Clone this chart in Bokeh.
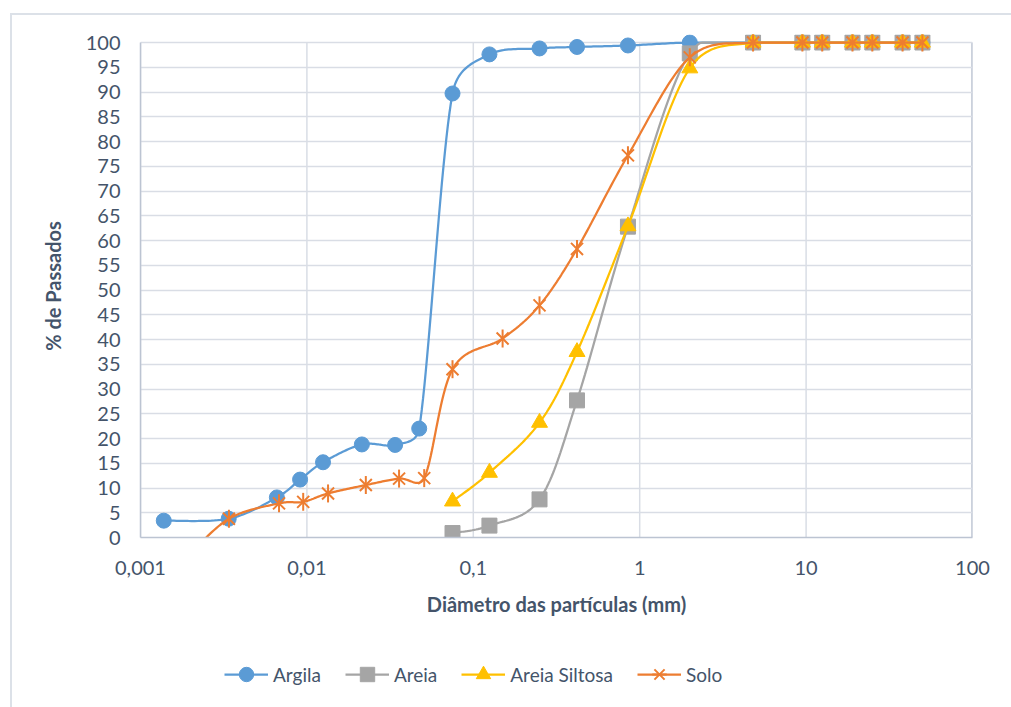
import numpy as np
from bokeh.plotting import figure
from bokeh.layouts import column
from bokeh.models import (Range1d, FixedTicker, CustomJSTickFormatter, Legend,
                          LegendItem, InlineStyleSheet)
from bokeh.embed import file_html
from bokeh.resources import INLINE

# Grain-size distribution (% passing vs particle diameter, mm)
coarse_d = [4.8, 9.5, 12.5, 19, 25, 38, 50]
coarse_p = [100, 100, 100, 100, 100, 100, 100]

argila_d = [0.00138, 0.00339, 0.0066, 0.0091, 0.0125, 0.0214, 0.0339, 0.0473,
            0.075, 0.125, 0.25, 0.42, 0.85, 2.0] + coarse_d
argila_p = [3.4, 3.8, 8.1, 11.7, 15.2, 18.8, 18.7, 22.0,
            89.7, 97.6, 98.8, 99.1, 99.4, 100] + coarse_p

areia_d = [0.075, 0.125, 0.25, 0.42, 0.85, 2.0] + coarse_d
areia_p = [0.9, 2.4, 7.7, 27.7, 62.8, 97.8] + coarse_p

siltosa_d = [0.075, 0.125, 0.25, 0.42, 0.85, 2.0] + coarse_d
siltosa_p = [7.3, 13.1, 23.2, 37.5, 62.9, 94.8] + coarse_p

solo_d = [0.0019, 0.0034, 0.0068, 0.0095, 0.0134, 0.0226, 0.0358, 0.0507,
          0.075, 0.15, 0.25, 0.42, 0.85, 2.0] + coarse_d
solo_p = [-4.0, 3.8, 6.9, 7.2, 8.9, 10.6, 11.9, 12.0,
          34.0, 40.2, 46.9, 58.3, 77.2, 97.0] + coarse_p

x_ticks = [0.001, 0.01, 0.1, 1, 10, 100]
y_ticks = list(range(0, 101, 5))

TEXT = "#44546A"
GRID = "#D9DDE5"
EDGE = "#BCC4D2"
BORDER = "#DCE1E8"
FONT = "Lato"

PX_DECADE = 166.4   # horizontal screen size of one decade
PX_UNIT = 4.95      # vertical screen size of one percent


def smooth(xs, ys, n=24):
    """Bezier smoothing in screen-proportional space; control arms are
    limited to half of each segment so the curve does not overshoot."""
    u = np.log10(np.asarray(xs, float)) * PX_DECADE
    v = np.asarray(ys, float) * PX_UNIT
    P = np.column_stack([u, v])
    out = [P[0]]
    m = len(P)
    t = np.linspace(0, 1, n)[1:, None]
    for i in range(m - 1):
        p0 = P[max(i - 1, 0)]
        p1 = P[i]
        p2 = P[i + 1]
        p3 = P[min(i + 2, m - 1)]
        seg_len = np.hypot(*(p2 - p1))
        a1 = (p2 - p0) / 6.0
        a2 = (p3 - p1) / 6.0
        for a in (a1, a2):
            L = np.hypot(*a)
            if L > seg_len / 2 and L > 0:
                a *= (seg_len / 2) / L
        c1 = p1 + a1
        c2 = p2 - a2
        seg = ((1 - t) ** 3) * p1 + 3 * ((1 - t) ** 2) * t * c1 \
            + 3 * (1 - t) * t ** 2 * c2 + t ** 3 * p2
        out.extend(seg)
    out = np.array(out)
    yv = np.minimum(out[:, 1] / PX_UNIT, max(ys))
    return list(10 ** (out[:, 0] / PX_DECADE)), list(yv)


LEGEND_H = 60

p = figure(width=1011, height=707 - LEGEND_H, x_axis_type="log",
           x_range=Range1d(0.001, 100), y_range=Range1d(0, 100 + 8 / PX_UNIT),
           output_backend="svg", toolbar_location=None,
           min_border_left=140, min_border_right=39,
           min_border_top=34, min_border_bottom=707 - LEGEND_H - 537)
p.outline_line_color = None
p.background_fill_color = "white"
p.border_fill_color = "white"

# vertical gridlines at each decade, limited to 0..100 %
p.segment(x0=x_ticks, y0=[0] * len(x_ticks), x1=x_ticks, y1=[100] * len(x_ticks),
          line_color=GRID, line_width=1.5, level="underlay")
p.segment(x0=[x_ticks[-1]], y0=[0], x1=[x_ticks[-1]], y1=[100],
          line_color=EDGE, line_width=2.5, level="underlay")
p.xgrid.visible = False
p.ygrid.ticker = FixedTicker(ticks=y_ticks)
p.ygrid.grid_line_color = GRID
p.ygrid.grid_line_width = 1.5

for ax in (p.xaxis[0], p.yaxis[0]):
    ax.major_tick_out = 0
    ax.major_tick_in = 0
    ax.minor_tick_out = 0
    ax.minor_tick_in = 0
    ax.axis_line_color = EDGE
    ax.axis_line_width = 1.5
    ax.major_label_text_color = TEXT
    ax.major_label_text_font = FONT
    ax.major_label_text_font_size = "20px"
    ax.axis_label_text_color = TEXT
    ax.axis_label_text_font = FONT
    ax.axis_label_text_font_size = "20px"
    ax.axis_label_text_font_style = "bold"

p.xaxis.ticker = FixedTicker(ticks=x_ticks)
p.xaxis.formatter = CustomJSTickFormatter(code="return String(tick).replace('.', ',');")
p.xaxis.major_label_standoff = 23
p.xaxis.axis_label = "Diâmetro das partículas (mm)"
p.xaxis.axis_label_standoff = 14

p.yaxis.ticker = FixedTicker(ticks=y_ticks)
p.yaxis.bounds = (0, 100)
p.yaxis.major_label_standoff = 20
p.yaxis.axis_label = "% de Passados"
p.yaxis.axis_label_standoff = 18

# strip under the chart that carries the legend row; its data window is
# placed away from the data so only the legend entries are visible
lg = figure(width=1011, height=LEGEND_H,
            x_range=Range1d(-1000, -999), y_range=Range1d(-1000, -999),
            x_axis_location=None, y_axis_location=None,
            output_backend="svg", toolbar_location=None,
            min_border=0, min_border_left=0, min_border_right=0,
            min_border_top=0, min_border_bottom=0)
lg.outline_line_color = None
lg.grid.visible = False
lg.background_fill_color = "white"
lg.border_fill_color = "white"

series = [
    ("Argila", argila_d, argila_p, "#5B9BD5", "circle", 15),
    ("Areia", areia_d, areia_p, "#A5A5A5", "square", 15),
    ("Areia Siltosa", siltosa_d, siltosa_p, "#FFC000", "triangle", 16),
    ("Solo", solo_d, solo_p, "#ED7D31", "star6", 0),
]


def draw(fig, d, pct, color, marker, size, curve=True):
    rends = []
    if curve:
        sx, sy = smooth(d, pct)
    else:
        sx, sy = d, pct
    rends.append(fig.line(sx, sy, line_color=color, line_width=2.25))
    if marker == "star6":
        # six-spoke asterisk: an "x" plus a vertical dash
        rends.append(fig.scatter(d, pct, marker="x", size=17, line_color=color, line_width=2))
        rends.append(fig.scatter(d, pct, marker="dash", size=18, angle=np.pi / 2,
                                 line_color=color, line_width=2))
    else:
        rends.append(fig.scatter(d, pct, marker=marker, size=size,
                                 fill_color=color, line_color=color))
    return rends


items = []
for name, d, pct, color, marker, size in series:
    draw(p, d, pct, color, marker, size)
    rends = draw(lg, d, pct, color, marker, size, curve=False)
    items.append(LegendItem(label=name, renderers=rends))

legend = Legend(items=items, orientation="horizontal", location=(84, 15),
                glyph_width=44, glyph_height=36, label_height=36,
                label_standoff=5, spacing=24,
                padding=0, margin=0, border_line_color=None,
                background_fill_alpha=0,
                label_text_font=FONT, label_text_font_size="19px",
                label_text_color=TEXT)
lg.add_layout(legend, "center")

p.stylesheets = [InlineStyleSheet(css=(
    ":host::after { content: ''; position: absolute; left: 10px; top: 13px; "
    "right: 0; bottom: 0; border-left: 2px solid " + BORDER + "; "
    "border-top: 2px solid " + BORDER + "; pointer-events: none; }"))]
lg.stylesheets = [InlineStyleSheet(css=(
    ":host::after { content: ''; position: absolute; left: 10px; top: 0; "
    "right: 0; bottom: 0; border-left: 2px solid " + BORDER + "; "
    "pointer-events: none; }"))]

page = column(p, lg, spacing=0)
open("out.html", "w").write(file_html(page, INLINE))
